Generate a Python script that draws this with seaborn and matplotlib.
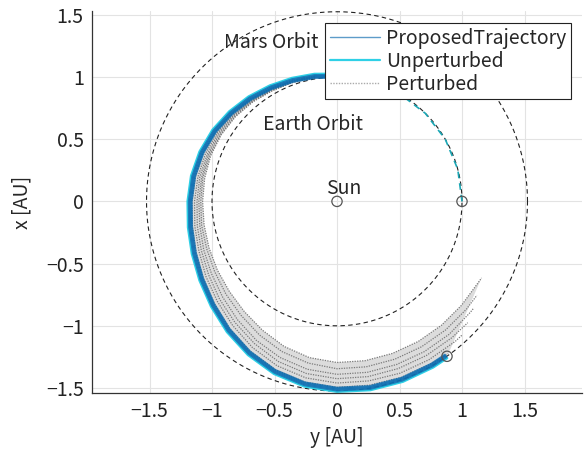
import numpy as np
import pandas as pd
import matplotlib
matplotlib.use("Agg")
import matplotlib.pyplot as plt
from matplotlib.lines import Line2D
import seaborn as sns

# ---------------- data (polar angle in degrees, radius in AU) ----------------
earth_radius = 1.0
mars_radius = 1.524

# departure arc on Earth orbit (unperturbed)
depart_theta = [0, 15, 30, 45, 60, 75, 90]
depart_r = [1.0, 1.0, 1.0, 1.0, 1.0, 1.0, 1.0]

# proposed / unperturbed transfer (band centre)
blue_theta = [90, 100, 110, 120, 130, 140, 150, 160, 170, 180, 190, 200, 210, 220,
              230, 240, 250, 260, 270, 280, 290, 300, 305]
blue_r = [1.01, 1.025, 1.04, 1.06, 1.085, 1.11, 1.135, 1.155, 1.17, 1.18, 1.195, 1.22,
          1.255, 1.30, 1.355, 1.41, 1.46, 1.495, 1.515, 1.525, 1.527, 1.525, 1.522]
proposed_offsets = [-0.018, -0.01, -0.002, 0.006]
unperturbed_offset = 0.016

# perturbed trajectories (band of dotted lines)
gray_theta = [100, 110, 120, 130, 140, 150, 160, 170, 180, 190, 200, 210, 220, 230,
              240, 250, 260, 270, 280, 290, 300]
gray_r_1 = [1.02, 1.035, 1.05, 1.075, 1.10, 1.12, 1.14, 1.15, 1.16, 1.175, 1.20, 1.235,
            1.28, 1.335, 1.39, 1.44, 1.475, 1.495, 1.50, 1.505, 1.505]
gray_r_2 = [1.02, 1.03, 1.045, 1.065, 1.09, 1.105, 1.12, 1.13, 1.14, 1.155, 1.175, 1.21,
            1.25, 1.30, 1.355, 1.405, 1.44, 1.46, 1.465, 1.47, 1.47]
gray_r_3 = [1.015, 1.03, 1.04, 1.06, 1.08, 1.095, 1.105, 1.115, 1.12, 1.135, 1.155, 1.185,
            1.225, 1.27, 1.32, 1.37, 1.405, 1.425, 1.43, 1.43, 1.43]
gray_r_4 = [1.015, 1.025, 1.035, 1.055, 1.075, 1.085, 1.095, 1.10, 1.105, 1.115, 1.135, 1.16,
            1.195, 1.24, 1.29, 1.335, 1.37, 1.39, 1.395, 1.395, 1.395]
gray_r_5 = [1.01, 1.02, 1.03, 1.05, 1.065, 1.075, 1.085, 1.09, 1.09, 1.10, 1.11, 1.13,
            1.16, 1.195, 1.24, 1.285, 1.32, 1.345, 1.35, 1.35, 1.35]
gray_r_6 = [1.01, 1.02, 1.03, 1.045, 1.06, 1.07, 1.075, 1.075, 1.075, 1.08, 1.09, 1.105,
            1.125, 1.155, 1.195, 1.24, 1.275, 1.295, 1.30, 1.30, 1.30]
gray_tails = [
    [(306, 1.515)],
    [(310, 1.47), (313, 1.468)],
    [(310, 1.43), (317, 1.43)],
    [(310, 1.395), (320, 1.39), (322, 1.39)],
    [(310, 1.35), (320, 1.35), (326, 1.35)],
    [(310, 1.30), (320, 1.30), (330, 1.305), (332, 1.31)],
]
gray_rs = [gray_r_1, gray_r_2, gray_r_3, gray_r_4, gray_r_5, gray_r_6]

# markers (y, x) in AU
marker_h = [0.0, 1.0, 0.88]
marker_v = [0.0, 0.0, -1.245]

labels = ["ProposedTrajectory", "Unperturbed", "Perturbed"]


def polar_df(theta, r, line_id):
    t = np.deg2rad(np.asarray(theta, dtype=float))
    r = np.asarray(r, dtype=float)
    return pd.DataFrame({"h": r * np.cos(t), "v": r * np.sin(t), "line": line_id})


# ---------------- figure ----------------
sns.set_theme(style="white")
plt.rcParams["font.family"] = ["Noto Sans CJK JP", "DejaVu Sans"]

fig = plt.figure(figsize=(5.84, 4.54), dpi=100)
ax = fig.add_axes([92 / 584, 1 - 393 / 454, 490 / 584, 382 / 454])

# orbits
circ = np.linspace(0, 360, 361)
earth_df = polar_df(circ, [earth_radius] * len(circ), 0)
mars_df = polar_df(circ, [mars_radius] * len(circ), 0)
for d in (earth_df, mars_df):
    sns.lineplot(data=d, x="h", y="v", sort=False, estimator=None, color="#222222",
                 lw=0.8, linestyle=(0, (4, 3)), ax=ax, legend=False)

# departure arc
dep_df = polar_df(depart_theta, depart_r, 0)
sns.lineplot(data=dep_df, x="h", y="v", sort=False, estimator=None, color="#1aa7b5",
             lw=1.2, linestyle=(0, (4, 3)), ax=ax, legend=False)

# perturbed band: light fill between outermost and innermost, then dotted lines
outer = polar_df(list(gray_theta) + [p[0] for p in gray_tails[0]],
                 list(gray_r_1) + [p[1] for p in gray_tails[0]], 0)
inner = polar_df(list(gray_theta) + [p[0] for p in gray_tails[-1]],
                 list(gray_r_6) + [p[1] for p in gray_tails[-1]], 0)
poly_h = np.concatenate([outer["h"].values, inner["h"].values[::-1]])
poly_v = np.concatenate([outer["v"].values, inner["v"].values[::-1]])
ax.fill(poly_h, poly_v, facecolor="#dcdcdc", edgecolor="none", zorder=1.5)

gray_parts = []
for i, (rs, tail) in enumerate(zip(gray_rs, gray_tails)):
    th = list(gray_theta) + [p[0] for p in tail]
    rr = list(rs) + [p[1] for p in tail]
    gray_parts.append(polar_df(th, rr, i))
gray_df = pd.concat(gray_parts)
sns.lineplot(data=gray_df, x="h", y="v", units="line", sort=False, estimator=None,
             color="#7a7a7a", lw=0.9, linestyle=(0, (1, 1)), ax=ax, legend=False)

# unperturbed (outer edge of band)
unp_df = polar_df(blue_theta, np.asarray(blue_r) + unperturbed_offset, 0)
sns.lineplot(data=unp_df, x="h", y="v", sort=False, estimator=None,
             color="#2fd0e6", lw=1.6, ax=ax, legend=False)

# proposed trajectories
prop_df = pd.concat([polar_df(blue_theta, np.asarray(blue_r) + off, i)
                     for i, off in enumerate(proposed_offsets)])
sns.lineplot(data=prop_df, x="h", y="v", units="line", sort=False, estimator=None,
             color="#0b6cb0", lw=1.4, alpha=0.8, ax=ax, legend=False)

# markers
sns.scatterplot(x=marker_h, y=marker_v, s=55, facecolor="none", edgecolor="#555555",
                linewidth=0.9, ax=ax, zorder=5, legend=False)

# texts
fs = 14
ax.text(-0.90, 1.28, "Mars Orbit", fontsize=fs, ha="left", va="center")
ax.text(-0.59, 0.62, "Earth Orbit", fontsize=fs, ha="left", va="center")
ax.text(-0.09, 0.10, "Sun", fontsize=fs, ha="left", va="center")

ax.set_xlim(-1.96, 1.96)
ax.set_ylim(-1.54, 1.53)
ticks = [-1.5, -1, -0.5, 0, 0.5, 1, 1.5]
tick_labels = ["\u22121.5", "\u22121", "\u22120.5", "0", "0.5", "1", "1.5"]
ax.set_xticks(ticks)
ax.set_yticks(ticks)
ax.set_xticklabels(tick_labels)
ax.set_yticklabels(tick_labels)
ax.set_xlabel("y [AU]", fontsize=fs, labelpad=3)
ax.set_ylabel("x [AU]", fontsize=fs, labelpad=10)
ax.tick_params(axis="both", labelsize=fs, direction="in", length=4, width=0.8,
               color="#333333", labelcolor="#222222", pad=6)
ax.grid(True, color="#e3e3e3", lw=0.8)
ax.set_axisbelow(True)
for s in ["top", "right"]:
    ax.spines[s].set_visible(False)
for s in ["left", "bottom"]:
    ax.spines[s].set_color("#333333")
    ax.spines[s].set_linewidth(0.9)

handles = [
    Line2D([], [], color="#5d9cc9", lw=1.0),
    Line2D([], [], color="#2fd0e6", lw=1.6),
    Line2D([], [], color="#aaaaaa", lw=1.0, linestyle=(0, (1, 1))),
]
leg = ax.legend(handles, labels, loc="upper right", bbox_to_anchor=(0.978, 0.969),
                fontsize=fs, frameon=True, fancybox=False, framealpha=1,
                edgecolor="#222222", borderpad=0.25, labelspacing=0.1,
                handlelength=2.6, handletextpad=0.3, borderaxespad=0)
leg.get_frame().set_linewidth(0.8)

fig.savefig("out.png", dpi=100)
